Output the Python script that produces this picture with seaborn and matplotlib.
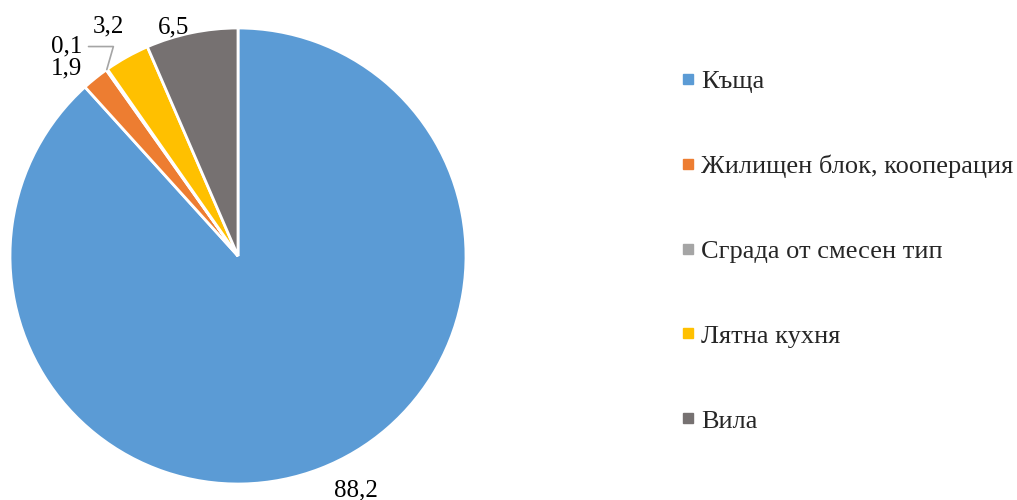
import numpy as np
import seaborn as sns
import matplotlib.pyplot as plt
from matplotlib.lines import Line2D

# data
categories = ["Къща", "Жилищен блок, кооперация", "Сграда от смесен тип", "Лятна кухня", "Вила"]
shares = [88.2, 1.9, 0.1, 3.2, 6.5]
value_labels = ["88,2", "1,9", "0,1", "3,2", "6,5"]
colors = sns.color_palette(["#5B9BD5", "#ED7D31", "#A5A5A5", "#FFC000", "#767171"])

# label offsets from wedge edge, pixels (style only)
label_offsets = [(36, -22), (-29, 10), (-40, 23), (-18, 30), (-18, 5)]

sns.set_theme(style="white")
plt.rcParams["font.family"] = ["Liberation Serif", "DejaVu Serif"]

fig = plt.figure(figsize=(10.17, 5.0), dpi=100)
R = 228
ax = fig.add_axes([(238 - R) / 1017, (500 - 256 - R) / 500, 2 * R / 1017, 2 * R / 500])

wedges, _ = ax.pie(shares, colors=colors, startangle=90, counterclock=False,
                   wedgeprops=dict(edgecolor="white", linewidth=2))
ax.set_xlim(-1, 1)
ax.set_ylim(-1, 1)
ax.set_aspect("equal")
ax.axis("off")

for w, lab, off in zip(wedges, value_labels, label_offsets):
    theta = np.deg2rad((w.theta1 + w.theta2) / 2)
    edge = (np.cos(theta), np.sin(theta))
    arrow = None
    if lab == "0,1":
        arrow = dict(arrowstyle="-", color="#A5A5A5", lw=1.2,
                     connectionstyle="angle,angleA=0,angleB=74",
                     shrinkA=2, shrinkB=0)
    ax.annotate(lab, xy=edge, xytext=off, textcoords="offset pixels",
                ha="center", va="center", fontsize=18, color="black",
                arrowprops=arrow, annotation_clip=False)

handles = [Line2D([0], [0], marker="s", linestyle="none", markersize=6.5,
                  markerfacecolor=c, markeredgecolor=c) for c in colors]
fig.legend(handles, categories, loc="center left", bbox_to_anchor=(683 / 1017, 0.498),
           frameon=False, fontsize=19, handlelength=0.4, handletextpad=0.3,
           labelspacing=2.33, borderpad=0, borderaxespad=0)

fig.savefig("out.png", dpi=100)
